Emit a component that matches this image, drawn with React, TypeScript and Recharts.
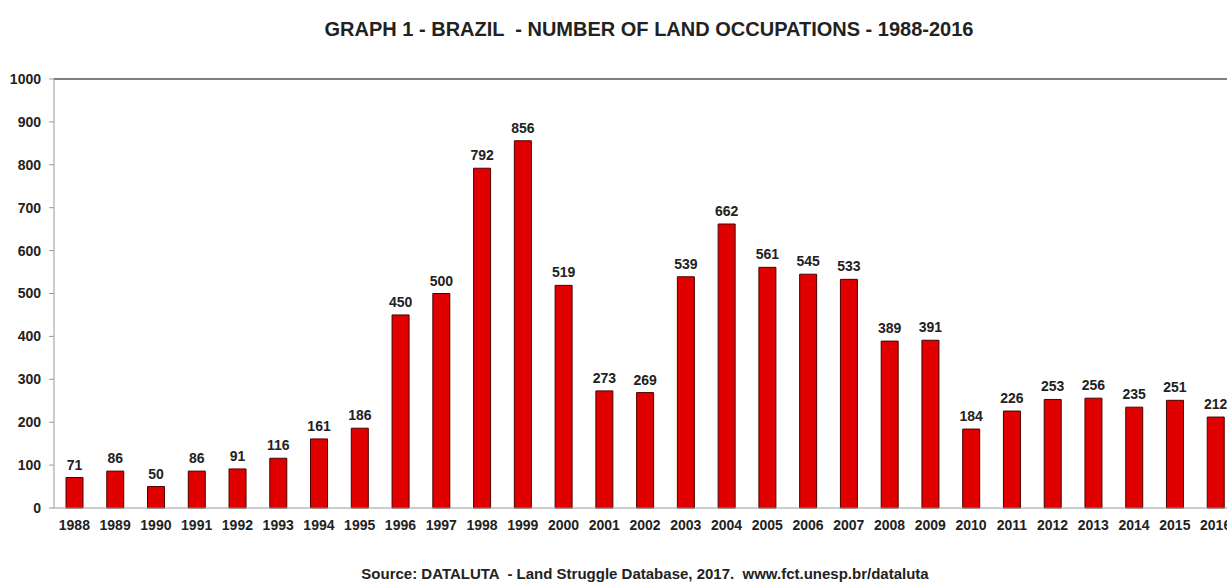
import { Bar, BarChart, LabelList, ReferenceLine, XAxis, YAxis } from "recharts";

const years = [
  "1988", "1989", "1990", "1991", "1992", "1993", "1994", "1995", "1996", "1997",
  "1998", "1999", "2000", "2001", "2002", "2003", "2004", "2005", "2006", "2007",
  "2008", "2009", "2010", "2011", "2012", "2013", "2014", "2015", "2016",
];

const occupations = [
  71, 86, 50, 86, 91, 116, 161, 186, 450, 500,
  792, 856, 519, 273, 269, 539, 662, 561, 545, 533,
  389, 391, 184, 226, 253, 256, 235, 251, 212,
];

const yTicks = [0, 100, 200, 300, 400, 500, 600, 700, 800, 900, 1000];

const data = years.map((year, i) => ({ year, value: occupations[i] }));
const boundaryTicks = years.map((_, i) => i).concat(years.length);

const font = "'Liberation Sans', Arial, sans-serif";
const tickStyle = { fill: "#222", fontSize: 14, fontWeight: 700, fontFamily: font };

export default function App() {
  return (
    <div style={{ position: "absolute", left: 0, top: 0, width: 1240, height: 582, background: "#fff" }}>
      <div
        style={{
          position: "absolute",
          top: 18,
          left: 0,
          width: 1298,
          textAlign: "center",
          fontFamily: font,
          fontWeight: 700,
          fontSize: 20,
          color: "#222",
          whiteSpace: "pre",
        }}
      >
        {"GRAPH 1 - BRAZIL  - NUMBER OF LAND OCCUPATIONS - 1988-2016"}
      </div>
      <BarChart
        width={1240}
        height={582}
        data={data}
        margin={{ top: 79, right: 4, left: 0, bottom: 44 }}
      >
        <XAxis
          xAxisId="grid"
          type="number"
          domain={[0, years.length]}
          ticks={boundaryTicks}
          tick={false}
          axisLine={false}
          tickLine={{ stroke: "#999" }}
          tickSize={5}
          height={0}
        />
        <XAxis
          dataKey="year"
          interval={0}
          tickLine={false}
          tickSize={5}
          tickMargin={7}
          axisLine={{ stroke: "#999" }}
          tick={tickStyle}
          height={30}
        />
        <YAxis
          domain={[0, 1000]}
          ticks={yTicks}
          interval={0}
          width={54}
          tickSize={5}
          tickMargin={8}
          tickLine={{ stroke: "#999" }}
          axisLine={{ stroke: "#999" }}
          tick={tickStyle}
        />
        <ReferenceLine y={1000} stroke="#555" strokeWidth={1.5} />
        <Bar
          dataKey="value"
          barSize={17}
          fill="#e00000"
          stroke="#4a0000"
          strokeWidth={1}
          isAnimationActive={false}
        >
          <LabelList
            dataKey="value"
            position="top"
            offset={8}
            style={{ fill: "#222", fontSize: 14, fontWeight: 700, fontFamily: font }}
          />
        </Bar>
      </BarChart>
      <div
        style={{
          position: "absolute",
          top: 565,
          left: 0,
          width: 1290,
          textAlign: "center",
          fontFamily: font,
          fontWeight: 700,
          fontSize: 15,
          color: "#222",
          whiteSpace: "pre",
        }}
      >
        {"Source: DATALUTA  - Land Struggle Database, 2017.  www.fct.unesp.br/dataluta"}
      </div>
    </div>
  );
}
